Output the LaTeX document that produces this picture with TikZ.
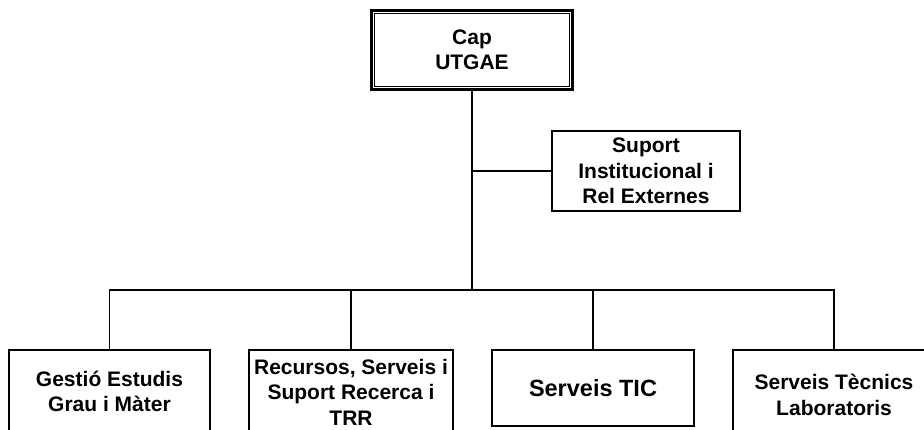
\documentclass[tikz,border=0pt]{standalone}
\usepackage{fontspec}
\setmainfont{Liberation Sans}
\begin{document}
\begin{tikzpicture}[x=1pt,y=-1pt,
  box/.style={draw, line width=2pt, rectangle, inner sep=0pt, align=center,
    font=\fontsize{21}{25.5}\selectfont\bfseries},
  conn/.style={line width=1.4pt}]
\useasboundingbox (0,0) rectangle (924,430);
\clip (0,0) rectangle (924,430);
\node[box, line width=3pt, minimum width=201pt, minimum height=79pt] (cap) at (472,50) {Cap\\UTGAE};
\draw[line width=1.1pt] ([shift={(4.6pt,-4.6pt)}]cap.north west) rectangle ([shift={(-4.6pt,4.6pt)}]cap.south east);
\node[box, minimum width=188pt, minimum height=80pt] (sup) at (646,171) {Suport\\Institucional i\\Rel Externes};
\node[box, minimum width=201pt, minimum height=83pt] (b1) at (109.5,391.5) {Gestió Estudis\\Grau i Màter};
\node[box, minimum width=204pt, minimum height=84pt] (b2) at (351,392) {Recursos, Serveis i\\Suport Recerca i\\TRR};
\node[box, minimum width=202pt, minimum height=76pt, font=\fontsize{23.5}{28}\selectfont\bfseries] (b3) at (593,388) {Serveis TIC};
\node[box, minimum width=202pt, minimum height=90pt] (b4) at (834,395) {Serveis Tècnics\\Laboratoris};
\coordinate (bar) at (473,290);
\draw[conn] (cap.south) -- (cap.south |- bar);
\draw[conn] (cap.south |- sup.west) -- (sup.west);
\draw[conn] (b1.north) -- (b1.north |- bar) -- (b4.north |- bar) -- (b4.north);
\draw[conn] (b2.north) -- (b2.north |- bar);
\draw[conn] (b3.north) -- (b3.north |- bar);
\end{tikzpicture}
\end{document}
